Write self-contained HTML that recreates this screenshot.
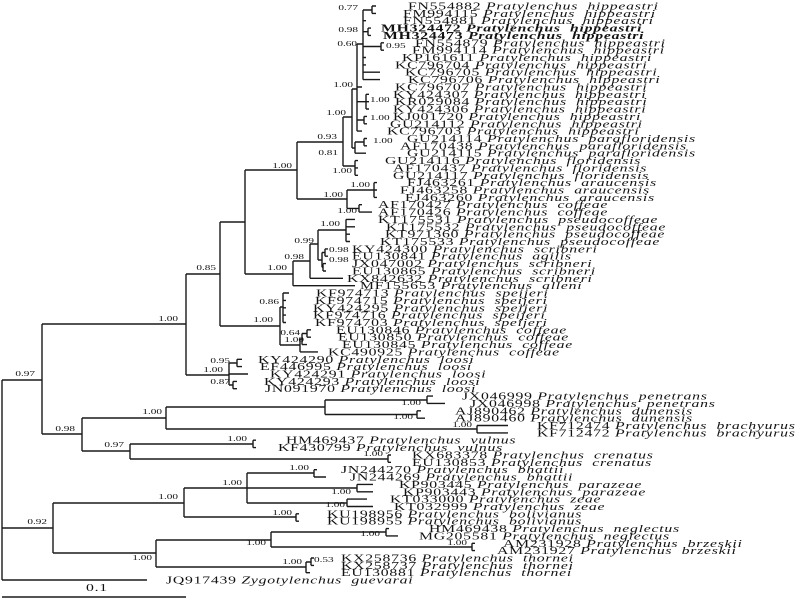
<!DOCTYPE html>
<html><head><meta charset="utf-8"><style>
html,body{margin:0;padding:0;background:#fff;width:800px;height:600px;overflow:hidden}
svg{display:block}
text{font-family:"Liberation Serif",serif;white-space:pre;fill:#111}
.l{font-size:10.5px;letter-spacing:0.5px}
.b{font-size:7.5px;fill:#222}
</style></head><body>
<svg width="800" height="600" viewBox="0 0 800 600" xmlns="http://www.w3.org/2000/svg">
<path fill="none" stroke="#1a1a1a" stroke-width="1.4" d="
M2 380V580 M2 380H42 M2 528H53 M2 580H147
M42 324V434 M42 324H186 M42 434H82
M186 274V375 M186 274H220 M186 375H229
M220 222V326 M220 222H245 M220 326H280
M245 170V274 M245 170H297 M245 274H293
M297 142V199 M297 142H343 M297 199H347
M343 117V166 M343 117H352 M343 166H355
M352 89V148 M352 89H357 M352 148H355
M355 142V153.2 M355 142H364
M357 44V131.1 M357 44H363 M357 101.7H366 M357 120H364
M363 10V79.6 M363 10H372 M363 31.7H368 M363 46.5H381
M372 6V13.4 M368 28.1V35.4 M381 42.8V50.2 M366 94.3V109 M364 116.4V123.8 M364 138.5V145.8
M355 160.6V175.3
M347 190V208.4 M347 190H374 M347 208.4H359
M374 182.6V197.4 M359 204.7V212.1
M293 261V285.7 M293 261H310
M310 244V278.3 M310 244H318
M318 230V260 M318 230H346 M318 260H322
M346 219.4V241.5
M322 252.5V267.3 M322 252.5H325 M322 267.3H323
M325 248.9V256.2 M323 263.6V271
M280 307V345 M280 307H283 M280 345H300
M283 293V322.5
M300 339V351.9 M300 339H302
M302 333.5V344.6 M302 333.5H307
M307 329.8V337.2
M229 363V385 M229 363H237 M229 385H233
M237 359.3V366.6 M233 381.4V388.7
M82 418V451 M82 418H166 M82 451H130
M166 407V429 M166 407H325 M166 429H477
M325 400V414.5 M325 400H427 M325 414.5H417
M427 396.1V403.4 M417 410.8V418.2 M477 425.5V432.9
M130 444V459 M130 444H253 M130 459H388
M253 440.2V447.6 M388 455V462.3
M53 503V553 M53 503H184 M53 553H156
M184 488V517 M184 488H247 M184 517H296
M247 473V503 M247 473H314 M247 488H357 M247 503H347
M314 469.7V477 M357 484.4V491.8 M347 499.1V506.5 M296 513.8V521.2
M156 540V567 M156 540H271 M156 567H306
M271 532V547 M271 532H386 M271 547H472
M386 528.6V535.9 M472 543.3V550.6
M306 562V572.7 M306 562H311 M311 558V565.4
M372 6H376 M372 13.4H376 M363 20.7H366 M368 28.1H371 M368 35.4H371 M381 42.8H384 M381 50.2H384
M363 57.5H366 M363 64.9H366 M363 72.2H380 M363 79.6H380 M357 87H362
M366 94.3H369 M366 101.7H369 M366 109H369 M364 116.4H367 M364 123.8H367 M357 131.1H362
M364 138.5H367 M364 145.8H367 M355 153.2H366 M355 160.6H358 M355 167.9H358 M355 175.3H358
M374 182.6H377 M374 190H377 M374 197.4H377 M359 204.7H362 M359 212.1H372
M346 219.4H355 M346 226.8H355 M346 234.2H350 M346 241.5H350
M325 248.9H328 M325 256.2H328 M323 263.6H326 M323 271H326 M310 278.3H343 M293 285.7H355
M283 293H289 M283 300.4H286 M283 307.8H286 M283 315.1H286 M283 322.5H286
M307 329.8H311 M307 337.2H311 M302 344.6H307 M300 351.9H318
M237 359.3H242 M237 366.6H242 M229 374H248 M233 381.4H237 M233 388.7H237
M427 396.1H433 M427 403.4H445 M417 410.8H421 M417 418.2H425 M477 425.5H508 M477 432.9H508
M253 440.2H256 M253 447.6H256 M388 455H391 M388 462.3H391
M314 469.7H317 M314 477H326 M357 484.4H373 M357 491.8H373 M347 499.1H367 M347 506.5H373
M296 513.8H299 M296 521.2H299 M386 528.6H389 M386 535.9H398 M472 543.3H475 M472 550.6H475
M311 558H314 M311 565.4H314 M306 572.7H310
M2 597H186
"/>
<g class="l">
<text transform="translate(408,9.5) scale(1.5,1)">FN554882 <tspan font-style="italic">Pratylenchus  hippeastri</tspan></text>
<text transform="translate(403,16.9) scale(1.5,1)">FM994115 <tspan font-style="italic">Pratylenchus  hippeastri</tspan></text>
<text transform="translate(403,24.2) scale(1.5,1)">FN554881 <tspan font-style="italic">Pratylenchus  hippeastri</tspan></text>
<text font-weight="bold" transform="translate(381,31.6) scale(1.5,1)">MH324472 <tspan font-style="italic">Pratylenchus  hippeastri</tspan></text>
<text font-weight="bold" transform="translate(383,38.9) scale(1.5,1)">MH324473 <tspan font-style="italic">Pratylenchus  hippeastri</tspan></text>
<text transform="translate(415,46.3) scale(1.5,1)">FN554879 <tspan font-style="italic">Pratylenchus  hippeastri</tspan></text>
<text transform="translate(412,53.7) scale(1.5,1)">FM994114 <tspan font-style="italic">Pratylenchus  hippeastri</tspan></text>
<text transform="translate(402,61) scale(1.5,1)">KP161611 <tspan font-style="italic">Pratylenchus  hippeastri</tspan></text>
<text transform="translate(395,68.4) scale(1.5,1)">KC796704 <tspan font-style="italic">Pratylenchus  hippeastri</tspan></text>
<text transform="translate(405,75.7) scale(1.5,1)">KC796705 <tspan font-style="italic">Pratylenchus  hippeastri</tspan></text>
<text transform="translate(408,83.1) scale(1.5,1)">KC796706 <tspan font-style="italic">Pratylenchus  hippeastri</tspan></text>
<text transform="translate(395,90.5) scale(1.5,1)">KC796707 <tspan font-style="italic">Pratylenchus  hippeastri</tspan></text>
<text transform="translate(393,97.8) scale(1.5,1)">KY424307 <tspan font-style="italic">Pratylenchus  hippeastri</tspan></text>
<text transform="translate(395,105.2) scale(1.5,1)">KR029084 <tspan font-style="italic">Pratylenchus  hippeastri</tspan></text>
<text transform="translate(393,112.5) scale(1.5,1)">KY424306 <tspan font-style="italic">Pratylenchus  hippeastri</tspan></text>
<text transform="translate(393,119.9) scale(1.5,1)">KJ001720 <tspan font-style="italic">Pratylenchus  hippeastri</tspan></text>
<text transform="translate(390,127.3) scale(1.5,1)">GU214112 <tspan font-style="italic">Pratylenchus  hippeastri</tspan></text>
<text transform="translate(387,134.6) scale(1.5,1)">KC796703 <tspan font-style="italic">Pratylenchus  hippeastri</tspan></text>
<text transform="translate(407,142) scale(1.5,1)">GU214114 <tspan font-style="italic">Pratylenchus  parafloridensis</tspan></text>
<text transform="translate(400,149.3) scale(1.5,1)">AF170438 <tspan font-style="italic">Pratylenchus  parafloridensis</tspan></text>
<text transform="translate(407,156.7) scale(1.5,1)">GU214115 <tspan font-style="italic">Pratylenchus  parafloridensis</tspan></text>
<text transform="translate(385,164.1) scale(1.5,1)">GU214116 <tspan font-style="italic">Pratylenchus  floridensis</tspan></text>
<text transform="translate(393,171.4) scale(1.5,1)">AF170437 <tspan font-style="italic">Pratylenchus  floridensis</tspan></text>
<text transform="translate(393,178.8) scale(1.5,1)">GU214117 <tspan font-style="italic">Pratylenchus  floridensis</tspan></text>
<text transform="translate(407,186.1) scale(1.5,1)">FJ463261 <tspan font-style="italic">Pratylenchus  araucensis</tspan></text>
<text transform="translate(400,193.5) scale(1.5,1)">FJ463258 <tspan font-style="italic">Pratylenchus  araucensis</tspan></text>
<text transform="translate(405,200.9) scale(1.5,1)">FJ463260 <tspan font-style="italic">Pratylenchus  araucensis</tspan></text>
<text transform="translate(378,208.2) scale(1.5,1)">AF170427 <tspan font-style="italic">Pratylenchus  coffeae</tspan></text>
<text transform="translate(378,215.6) scale(1.5,1)">AF170426 <tspan font-style="italic">Pratylenchus  coffeae</tspan></text>
<text transform="translate(378,222.9) scale(1.5,1)">KT175531 <tspan font-style="italic">Pratylenchus  pseudocoffeae</tspan></text>
<text transform="translate(386,230.3) scale(1.5,1)">KT175532 <tspan font-style="italic">Pratylenchus  pseudocoffeae</tspan></text>
<text transform="translate(385,237.7) scale(1.5,1)">KT971360 <tspan font-style="italic">Pratylenchus  pseudocoffeae</tspan></text>
<text transform="translate(380,245) scale(1.5,1)">KT175533 <tspan font-style="italic">Pratylenchus  pseudocoffeae</tspan></text>
<text transform="translate(352,252.4) scale(1.5,1)">KY424300 <tspan font-style="italic">Pratylenchus  scribneri</tspan></text>
<text transform="translate(352,259.7) scale(1.5,1)">EU130841 <tspan font-style="italic">Pratylenchus  agilis</tspan></text>
<text transform="translate(352,267.1) scale(1.5,1)">JX047002 <tspan font-style="italic">Pratylenchus  scribneri</tspan></text>
<text transform="translate(352,274.5) scale(1.5,1)">EU130865 <tspan font-style="italic">Pratylenchus  scribneri</tspan></text>
<text transform="translate(347,281.8) scale(1.5,1)">KX842632 <tspan font-style="italic">Pratylenchus  scribneri</tspan></text>
<text transform="translate(360,289.2) scale(1.5,1)">MF155653 <tspan font-style="italic">Pratylenchus  alleni</tspan></text>
<text transform="translate(316,296.5) scale(1.5,1)">KF974713 <tspan font-style="italic">Pratylenchus  speijeri</tspan></text>
<text transform="translate(315,303.9) scale(1.5,1)">KF974715 <tspan font-style="italic">Pratylenchus  speijeri</tspan></text>
<text transform="translate(313,311.3) scale(1.5,1)">KY424295 <tspan font-style="italic">Pratylenchus  speijeri</tspan></text>
<text transform="translate(313,318.6) scale(1.5,1)">KF974716 <tspan font-style="italic">Pratylenchus  speijeri</tspan></text>
<text transform="translate(315,326) scale(1.5,1)">KF974703 <tspan font-style="italic">Pratylenchus  speijeri</tspan></text>
<text transform="translate(336,333.3) scale(1.5,1)">EU130846 <tspan font-style="italic">Pratylenchus  coffeae</tspan></text>
<text transform="translate(338,340.7) scale(1.5,1)">EU130850 <tspan font-style="italic">Pratylenchus  coffeae</tspan></text>
<text transform="translate(342,348.1) scale(1.5,1)">EU130845 <tspan font-style="italic">Pratylenchus  coffeae</tspan></text>
<text transform="translate(328,355.4) scale(1.5,1)">KC490925 <tspan font-style="italic">Pratylenchus  coffeae</tspan></text>
<text transform="translate(258,362.8) scale(1.5,1)">KY424290 <tspan font-style="italic">Pratylenchus  loosi</tspan></text>
<text transform="translate(260,370.1) scale(1.5,1)">EF446995 <tspan font-style="italic">Pratylenchus  loosi</tspan></text>
<text transform="translate(270,377.5) scale(1.5,1)">KY424291 <tspan font-style="italic">Pratylenchus  loosi</tspan></text>
<text transform="translate(264,384.9) scale(1.5,1)">KY424293 <tspan font-style="italic">Pratylenchus  loosi</tspan></text>
<text transform="translate(265,392.2) scale(1.5,1)">JN091970 <tspan font-style="italic">Pratylenchus  loosi</tspan></text>
<text transform="translate(462,399.6) scale(1.5,1)">JX046999 <tspan font-style="italic">Pratylenchus  penetrans</tspan></text>
<text transform="translate(470,406.9) scale(1.5,1)">JX046998 <tspan font-style="italic">Pratylenchus  penetrans</tspan></text>
<text transform="translate(455,414.3) scale(1.5,1)">AJ890462 <tspan font-style="italic">Pratylenchus  dunensis</tspan></text>
<text transform="translate(455,421.7) scale(1.5,1)">AJ890460 <tspan font-style="italic">Pratylenchus  dunensis</tspan></text>
<text transform="translate(537,429) scale(1.5,1)">KF712474 <tspan font-style="italic">Pratylenchus  brachyurus</tspan></text>
<text transform="translate(537,436.4) scale(1.5,1)">KF712472 <tspan font-style="italic">Pratylenchus  brachyurus</tspan></text>
<text transform="translate(286,443.7) scale(1.5,1)">HM469437 <tspan font-style="italic">Pratylenchus  vulnus</tspan></text>
<text transform="translate(278,451.1) scale(1.5,1)">KF430799 <tspan font-style="italic">Pratylenchus  vulnus</tspan></text>
<text transform="translate(412,458.5) scale(1.5,1)">KX683378 <tspan font-style="italic">Pratylenchus  crenatus</tspan></text>
<text transform="translate(412,465.8) scale(1.5,1)">EU130853 <tspan font-style="italic">Pratylenchus  crenatus</tspan></text>
<text transform="translate(341,473.2) scale(1.5,1)">JN244270 <tspan font-style="italic">Pratylenchus  bhattii</tspan></text>
<text transform="translate(350,480.5) scale(1.5,1)">JN244269 <tspan font-style="italic">Pratylenchus  bhattii</tspan></text>
<text transform="translate(399,487.9) scale(1.5,1)">KP903445 <tspan font-style="italic">Pratylenchus  parazeae</tspan></text>
<text transform="translate(403,495.3) scale(1.5,1)">KP903443 <tspan font-style="italic">Pratylenchus  parazeae</tspan></text>
<text transform="translate(390,502.6) scale(1.5,1)">KT033000 <tspan font-style="italic">Pratylenchus  zeae</tspan></text>
<text transform="translate(394,510) scale(1.5,1)">KT032999 <tspan font-style="italic">Pratylenchus  zeae</tspan></text>
<text transform="translate(327,517.3) scale(1.5,1)">KU198956 <tspan font-style="italic">Pratylenchus  bolivianus</tspan></text>
<text transform="translate(327,524.7) scale(1.5,1)">KU198955 <tspan font-style="italic">Pratylenchus  bolivianus</tspan></text>
<text transform="translate(429,532.1) scale(1.5,1)">HM469438 <tspan font-style="italic">Pratylenchus  neglectus</tspan></text>
<text transform="translate(419,539.4) scale(1.5,1)">MG205581 <tspan font-style="italic">Pratylenchus  neglectus</tspan></text>
<text transform="translate(503,546.8) scale(1.5,1)">AM231928 <tspan font-style="italic">Pratylenchus  brzeskii</tspan></text>
<text transform="translate(497,554.1) scale(1.5,1)">AM231927 <tspan font-style="italic">Pratylenchus  brzeskii</tspan></text>
<text transform="translate(341,561.5) scale(1.5,1)">KX258736 <tspan font-style="italic">Pratylenchus  thornei</tspan></text>
<text transform="translate(341,568.9) scale(1.5,1)">KX258737 <tspan font-style="italic">Pratylenchus  thornei</tspan></text>
<text transform="translate(341,576.2) scale(1.5,1)">EU130881 <tspan font-style="italic">Pratylenchus  thornei</tspan></text>
<text transform="translate(166,583.6) scale(1.5,1)">JQ917439 <tspan font-style="italic">Zygotylenchus  guevarai</tspan></text>
<text transform="translate(86,591) scale(1.5,1)">0.1</text>
</g>
<g class="b" text-anchor="end">
<text transform="translate(358,10) scale(1.5,1)">0.77</text>
<text transform="translate(358,32) scale(1.5,1)">0.98</text>
<text transform="translate(357,46) scale(1.5,1)">0.60</text>
<text transform="translate(353,87) scale(1.5,1)">1.00</text>
<text transform="translate(346,115) scale(1.5,1)">1.00</text>
<text transform="translate(337,139) scale(1.5,1)">0.93</text>
<text transform="translate(338,155) scale(1.5,1)">0.81</text>
<text transform="translate(352,173) scale(1.5,1)">1.00</text>
<text transform="translate(292,168) scale(1.5,1)">1.00</text>
<text transform="translate(370,187) scale(1.5,1)">1.00</text>
<text transform="translate(343,197) scale(1.5,1)">1.00</text>
<text transform="translate(357,213) scale(1.5,1)">1.00</text>
<text transform="translate(340,226) scale(1.5,1)">1.00</text>
<text transform="translate(314,243) scale(1.5,1)">0.99</text>
<text transform="translate(304,259) scale(1.5,1)">0.98</text>
<text transform="translate(287,270) scale(1.5,1)">1.00</text>
<text transform="translate(216,270) scale(1.5,1)">0.85</text>
<text transform="translate(279,304) scale(1.5,1)">0.86</text>
<text transform="translate(273,322) scale(1.5,1)">1.00</text>
<text transform="translate(300,335) scale(1.5,1)">0.64</text>
<text transform="translate(304,342) scale(1.5,1)">1.00</text>
<text transform="translate(230,363) scale(1.5,1)">0.95</text>
<text transform="translate(223,372) scale(1.5,1)">1.00</text>
<text transform="translate(230,384) scale(1.5,1)">0.87</text>
<text transform="translate(178,321) scale(1.5,1)">1.00</text>
<text transform="translate(35,376) scale(1.5,1)">0.97</text>
<text transform="translate(75,431) scale(1.5,1)">0.98</text>
<text transform="translate(162,414) scale(1.5,1)">1.00</text>
<text transform="translate(124,447) scale(1.5,1)">0.97</text>
<text transform="translate(178,499) scale(1.5,1)">1.00</text>
<text transform="translate(47,524) scale(1.5,1)">0.92</text>
<text transform="translate(152,560) scale(1.5,1)">1.00</text>
<text transform="translate(421,405) scale(1.5,1)">1.00</text>
<text transform="translate(413,419) scale(1.5,1)">1.00</text>
<text transform="translate(472,427) scale(1.5,1)">1.00</text>
<text transform="translate(247,441) scale(1.5,1)">1.00</text>
<text transform="translate(383,456) scale(1.5,1)">1.00</text>
<text transform="translate(309,470) scale(1.5,1)">1.00</text>
<text transform="translate(242,485) scale(1.5,1)">1.00</text>
<text transform="translate(351,494) scale(1.5,1)">1.00</text>
<text transform="translate(345,507) scale(1.5,1)">1.00</text>
<text transform="translate(292,515) scale(1.5,1)">1.00</text>
<text transform="translate(380,536) scale(1.5,1)">1.00</text>
<text transform="translate(266,545) scale(1.5,1)">1.00</text>
<text transform="translate(467,545) scale(1.5,1)">1.00</text>
<text transform="translate(302,564) scale(1.5,1)">1.00</text>
</g>
<g class="b">
<text transform="translate(386,48) scale(1.5,1)">0.95</text>
<text transform="translate(370,102) scale(1.5,1)">1.00</text>
<text transform="translate(370,120) scale(1.5,1)">1.00</text>
<text transform="translate(373,143) scale(1.5,1)">1.00</text>
<text transform="translate(329,252) scale(1.5,1)">0.98</text>
<text transform="translate(329,262) scale(1.5,1)">0.98</text>
<text transform="translate(314,562) scale(1.5,1)">0.53</text>
</g>
</svg>
</body></html>
